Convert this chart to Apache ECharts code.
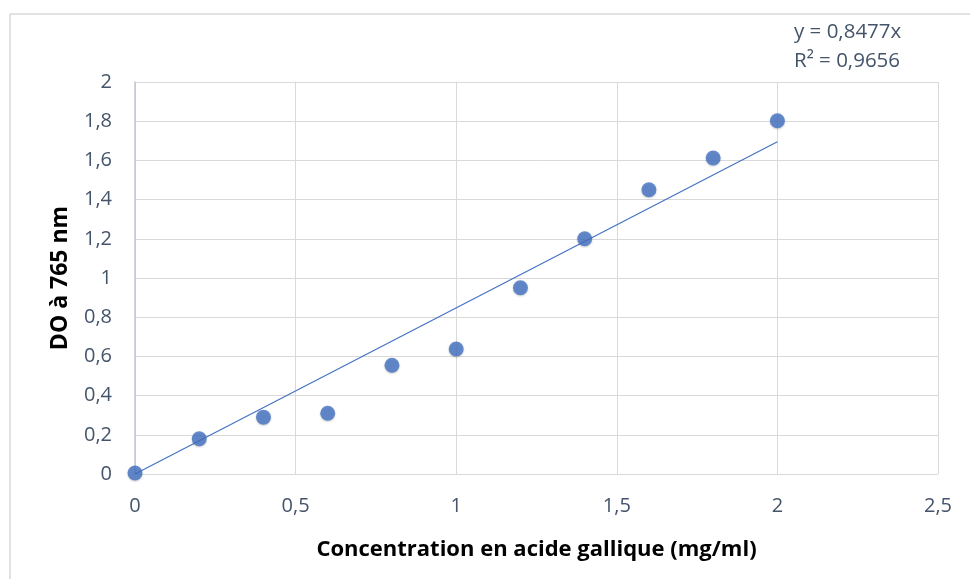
<!DOCTYPE html>
<html>
<head>
<meta charset="utf-8">
<script src="https://cdn.jsdelivr.net/npm/echarts@6/dist/echarts.min.js"></script>
<style>
  html, body { margin: 0; padding: 0; background: #fff; }
  #chart { width: 970px; height: 579px; }
</style>
</head>
<body>
<div id="chart"></div>
<script>
// concentration (mg/ml) and absorbance readings
const concentrations = [0, 0.2, 0.4, 0.6, 0.8, 1.0, 1.2, 1.4, 1.6, 1.8, 2.0];
const absorbances = [0.005, 0.18, 0.29, 0.31, 0.555, 0.638, 0.95, 1.2, 1.45, 1.612, 1.802];
// linear trend through the origin
const slope = 0.8477;
const trendX = [0, 2];
const equationLines = ['y = 0,8477x', 'R² = 0,9656'];

const fmt = v => String(v).replace('.', ',');
const txtColor = '#44546A';
const font = '"Open Sans", "Liberation Sans", sans-serif';

const chart = echarts.init(document.getElementById('chart'));

let option = {
  animation: false,
  graphic: [
    {
      type: 'rect',
      shape: { x: 10, y: 14, width: 980, height: 600 },
      style: { fill: 'none', stroke: '#D9D9D9', lineWidth: 1.5 },
      z: -1,
    },
    {
      type: 'text',
      left: 794,
      top: 18,
      style: {
        text: equationLines.join('\n'),
        fill: txtColor,
        font: '20.5px ' + font,
        lineHeight: 29,
      },
    },
  ],
  grid: { left: 135, right: 32, top: 82, bottom: 105 },
  xAxis: {
    type: 'value',
    min: 0,
    max: 2.5,
    interval: 0.5,
    name: 'Concentration en acide gallique (mg/ml)',
    nameLocation: 'middle',
    nameGap: 65,
    nameTextStyle: { color: '#000', fontWeight: 'bold', fontSize: 22, fontFamily: font },
    axisLine: { show: false },
    axisTick: { show: false },
    axisLabel: { color: txtColor, fontSize: 20, fontFamily: font, margin: 22, formatter: fmt },
    splitLine: { show: true, lineStyle: { color: '#D9D9D9', width: 1 } },
  },
  yAxis: {
    type: 'value',
    min: 0,
    max: 2,
    interval: 0.2,
    name: 'DO à 765 nm',
    nameLocation: 'middle',
    nameGap: 63,
    nameTextStyle: { color: '#000', fontWeight: 'bold', fontSize: 23, fontFamily: font },
    axisLine: { show: true, onZero: false, lineStyle: { color: '#BFC6D2', width: 1.5 } },
    axisTick: { show: false },
    axisLabel: {
      color: txtColor, fontSize: 20, fontFamily: font, margin: 23,
      formatter: v => fmt(Math.round(v * 10) / 10),
    },
    splitLine: { show: true, lineStyle: { color: '#D9D9D9', width: 1 } },
  },
  series: [
    {
      type: 'line',
      data: trendX.map(x => [x, slope * x]),
      symbol: 'none',
      lineStyle: { color: '#4472C4', width: 1.2 },
      z: 2,
    },
    {
      type: 'scatter',
      data: concentrations.map((x, i) => [x, absorbances[i]]),
      symbolSize: 15,
      itemStyle: { color: '#4472C4', shadowColor: 'rgba(0,0,0,0.25)', shadowBlur: 2, shadowOffsetY: 1 },
      z: 3,
    },
  ],
};

chart.setOption(option);
</script>
</body>
</html>
